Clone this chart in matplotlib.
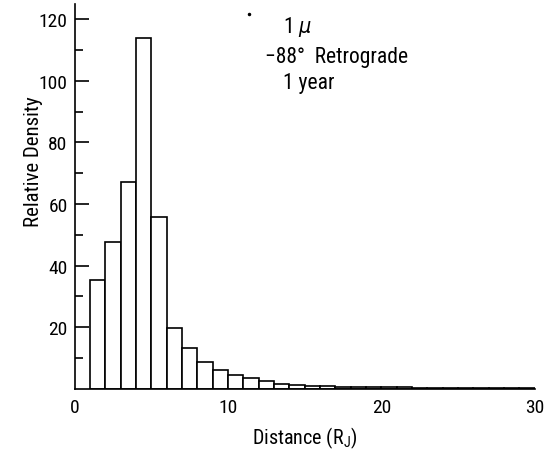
import matplotlib
matplotlib.use("Agg")
import matplotlib.pyplot as plt
from matplotlib import font_manager
import numpy as np

# bin edges (R_J) and relative density
bin_edges = list(range(1, 31))
density = [35.3, 47.7, 67.3, 114.0, 55.8, 19.6, 13.2, 8.6, 6.1, 4.5,
           3.3, 2.5, 1.6, 1.2, 0.9, 0.7, 0.5, 0.4, 0.4, 0.4,
           0.4, 0.35, 0.3, 0.3, 0.3, 0.3, 0.3, 0.3, 0.3]
x_ticks = [0, 10, 20, 30]
y_ticks = [20, 40, 60, 80, 100, 120]
notes = ["1 $\\mu$", "\u221288\u00b0  Retrograde", "1 year"]

# narrow lettering if some condensed face is around
installed = {f.name for f in font_manager.fontManager.ttflist}
family = ['DejaVu Sans']
for cand in ['Liberation Sans Narrow', 'Roboto Condensed', 'Open Sans Condensed']:
    if cand in installed:
        family = [cand, 'DejaVu Sans']
        break
plt.rcParams['font.family'] = family
plt.rcParams['font.stretch'] = 'condensed'
plt.rcParams['mathtext.fontset'] = 'dejavusans'

fig = plt.figure(figsize=(5.44, 4.52), dpi=100)
ax = fig.add_axes([0.137, 0.138, 0.846, 0.851])

left = np.array(bin_edges[:-1])
ax.bar(left, density, width=1.0, align='edge', facecolor='white',
       edgecolor='black', linewidth=1.2)

ax.set_xlim(0, 30)
ax.set_ylim(0, 125)
ax.set_xticks(x_ticks)
ax.set_yticks(y_ticks)
ax.set_yticks(np.arange(10, 121, 20), minor=True)
ax.tick_params(axis='x', length=0, pad=7, labelsize=14)
ax.tick_params(axis='y', which='major', direction='in', length=10,
               width=1.2, pad=5, labelsize=14)
ax.tick_params(axis='y', which='minor', direction='in', length=6, width=1.2)

for side in ['top', 'right']:
    ax.spines[side].set_visible(False)
for side in ['left', 'bottom']:
    ax.spines[side].set_linewidth(1.2)

ax.set_xlabel("Distance (R$_\\mathregular{J}$)", fontsize=14.5, labelpad=6)
ax.set_ylabel("Relative Density", fontsize=15)
ax.yaxis.set_label_coords(-0.069, 0.592)

ax.plot([11.4], [121.6], marker='.', color='black', markersize=3)
ax.text(13.6, 117.7, notes[0], fontsize=15.5, va='center')
ax.text(12.4, 108.0, notes[1], fontsize=15.5, va='center')
ax.text(13.6, 99.5, notes[2], fontsize=15.5, va='center')

fig.savefig("out.png", dpi=100)
